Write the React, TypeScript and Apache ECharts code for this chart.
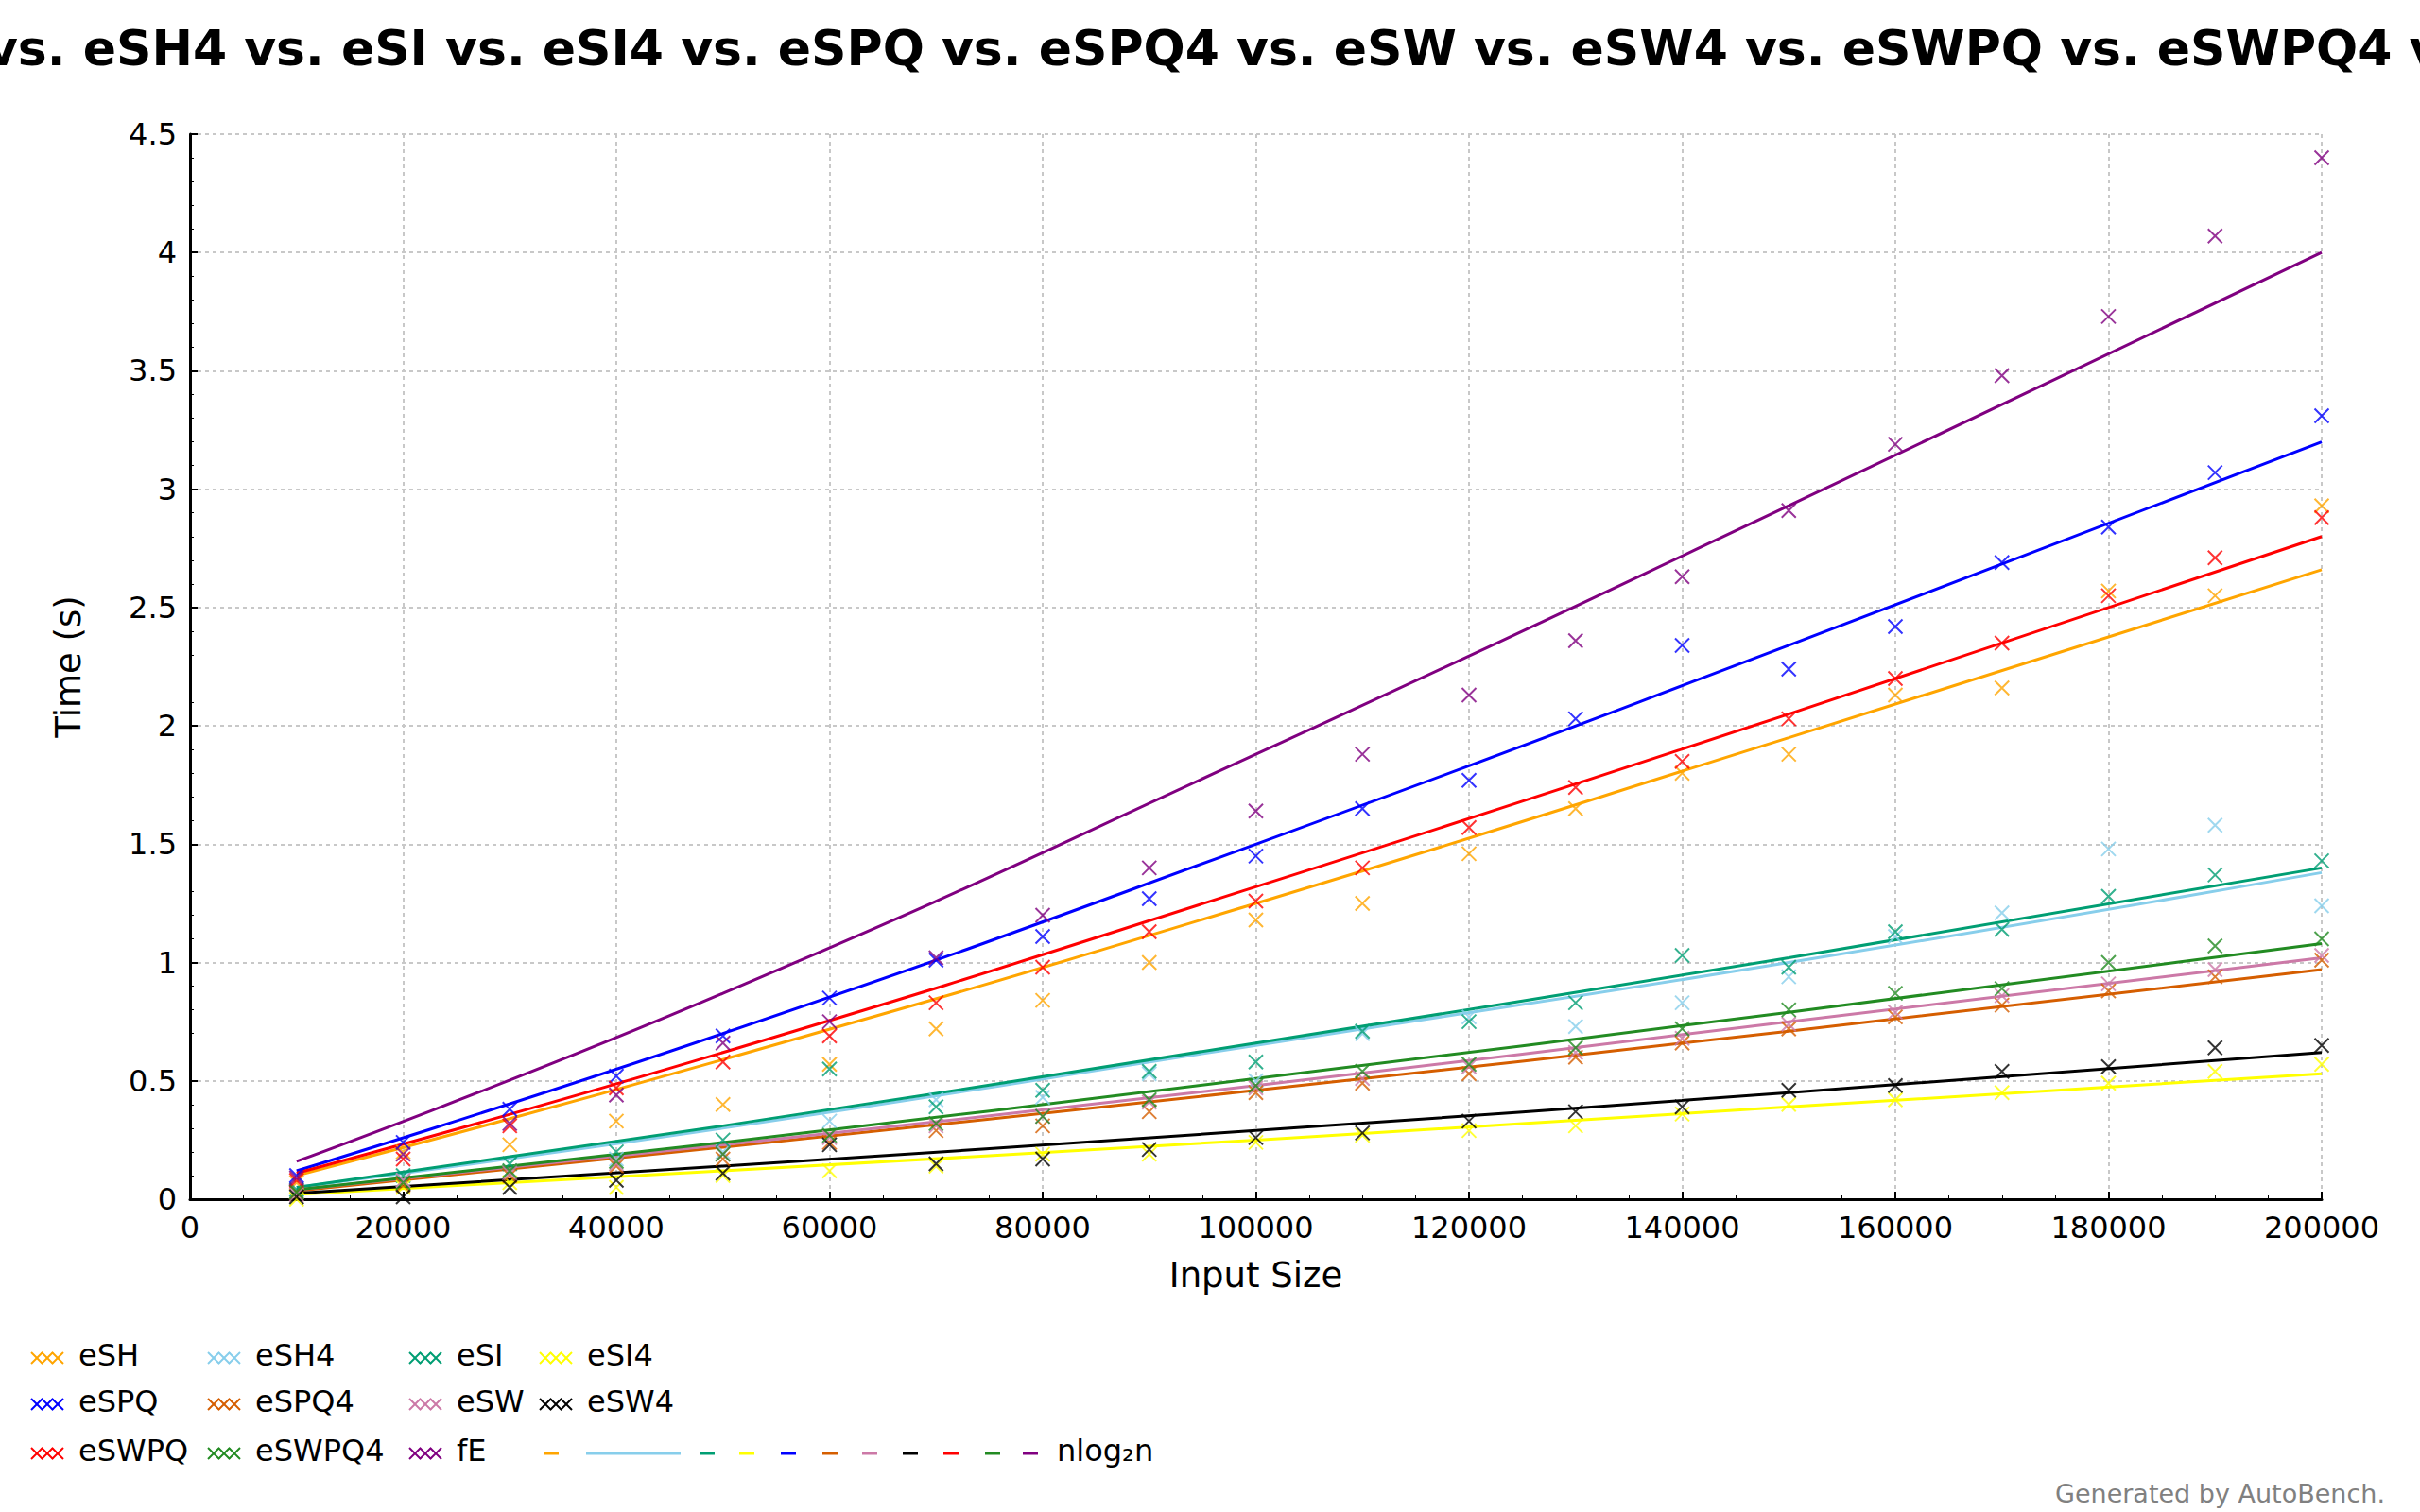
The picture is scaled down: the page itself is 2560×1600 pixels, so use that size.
import { useEffect, useRef } from 'react'
import * as echarts from 'echarts'

const sizes = [10000, 20000, 30000, 40000, 50000, 60000, 70000, 80000, 90000, 100000, 110000, 120000, 130000, 140000, 150000, 160000, 170000, 180000, 190000, 200000]
const fitSizes = [10000, 50000, 100000, 150000, 200000]

const names = ['eSH', 'eSH4', 'eSI', 'eSI4', 'eSPQ', 'eSPQ4', 'eSW', 'eSW4', 'eSWPQ', 'eSWPQ4', 'fE']
const colors = ['#FFA500', '#87CEEB', '#009E73', '#FFFF00', '#0000FF', '#D55E00', '#CC79A7', '#000000', '#FF0000', '#228B22', '#800080']

const eSH = [0.07, 0.2, 0.23, 0.33, 0.4, 0.57, 0.72, 0.84, 1.0, 1.18, 1.25, 1.46, 1.65, 1.8, 1.88, 2.13, 2.16, 2.57, 2.55, 2.93]
const eSH4 = [0.03, 0.08, 0.12, 0.17, 0.2, 0.33, 0.42, 0.43, 0.53, 0.5, 0.7, 0.77, 0.73, 0.83, 0.94, 1.11, 1.21, 1.48, 1.58, 1.24]
const eSI = [0.04, 0.1, 0.15, 0.2, 0.25, 0.55, 0.39, 0.46, 0.54, 0.58, 0.71, 0.75, 0.83, 1.03, 0.98, 1.13, 1.14, 1.28, 1.37, 1.43]
const eSI4 = [0.0, 0.05, 0.07, 0.05, 0.1, 0.12, 0.14, 0.19, 0.19, 0.24, 0.27, 0.29, 0.31, 0.36, 0.4, 0.42, 0.45, 0.49, 0.54, 0.57]
const eSPQ = [0.1, 0.24, 0.38, 0.52, 0.69, 0.85, 1.01, 1.11, 1.27, 1.45, 1.65, 1.77, 2.03, 2.34, 2.24, 2.42, 2.69, 2.84, 3.07, 3.31]
const eSPQ4 = [0.03, 0.06, 0.1, 0.14, 0.17, 0.24, 0.29, 0.31, 0.37, 0.45, 0.49, 0.53, 0.6, 0.66, 0.72, 0.77, 0.82, 0.88, 0.94, 1.01]
const eSW = [0.02, 0.08, 0.11, 0.15, 0.19, 0.26, 0.31, 0.35, 0.41, 0.47, 0.51, 0.56, 0.62, 0.68, 0.74, 0.79, 0.86, 0.91, 0.97, 1.03]
const eSW4 = [0.01, 0.01, 0.05, 0.08, 0.11, 0.23, 0.15, 0.17, 0.21, 0.26, 0.28, 0.33, 0.37, 0.39, 0.46, 0.48, 0.54, 0.56, 0.64, 0.65]
const eSWPQ = [0.08, 0.17, 0.31, 0.47, 0.58, 0.69, 0.83, 0.98, 1.13, 1.26, 1.4, 1.57, 1.74, 1.85, 2.03, 2.2, 2.35, 2.55, 2.71, 2.88]
const eSWPQ4 = [0.03, 0.07, 0.12, 0.16, 0.19, 0.27, 0.32, 0.35, 0.42, 0.48, 0.54, 0.57, 0.64, 0.72, 0.8, 0.87, 0.89, 1.0, 1.07, 1.1]
const fE = [0.09, 0.19, 0.32, 0.44, 0.66, 0.75, 1.02, 1.2, 1.4, 1.64, 1.88, 2.13, 2.36, 2.63, 2.91, 3.19, 3.48, 3.73, 4.07, 4.4]

// nlog2n fit curves
const fitESH = [0.1, 0.59, 1.25, 1.95, 2.66]
const fitESH4 = [0.05, 0.3, 0.65, 1.0, 1.38]
const fitESI = [0.05, 0.31, 0.66, 1.02, 1.4]
const fitESI4 = [0.02, 0.12, 0.25, 0.39, 0.53]
const fitESPQ = [0.12, 0.7, 1.5, 2.34, 3.2]
const fitESPQ4 = [0.035, 0.22, 0.46, 0.71, 0.97]
const fitESW = [0.04, 0.23, 0.48, 0.75, 1.02]
const fitESW4 = [0.025, 0.14, 0.29, 0.45, 0.62]
const fitESWPQ = [0.11, 0.62, 1.32, 2.05, 2.8]
const fitESWPQ4 = [0.04, 0.24, 0.51, 0.79, 1.08]
const fitFE = [0.16, 0.87, 1.88, 2.93, 4.0]

const points = [eSH, eSH4, eSI, eSI4, eSPQ, eSPQ4, eSW, eSW4, eSWPQ, eSWPQ4, fE]
const fits = [fitESH, fitESH4, fitESI, fitESI4, fitESPQ, fitESPQ4, fitESW, fitESW4, fitESWPQ, fitESWPQ4, fitFE]

const FONT = 'DejaVu Sans'
const CROSS = 'path://M0,0L10,10M10,0L0,10'

export default function App() {
  const ref = useRef<HTMLDivElement>(null)

  useEffect(() => {
    document.body.style.margin = '0'
    if (!ref.current) return
    const chart = echarts.init(ref.current, undefined, { renderer: 'svg' })

    const scatter = names.map((n, i) => ({
      name: n,
      type: 'scatter',
      symbol: CROSS,
      symbolSize: 15,
      itemStyle: { color: 'none', borderColor: colors[i], borderWidth: 2 },
      data: sizes.map((s, j) => [s, points[i][j]]),
      z: 3,
    }))
    const lines = names.map((n, i) => ({
      name: n + ' fit',
      type: 'line',
      smooth: true,
      showSymbol: false,
      lineStyle: { color: colors[i], width: 3 },
      data: fitSizes.map((s, j) => [s, fits[i][j]]),
      z: 2,
    }))

    // legend drawn by hand to match the 4-column layout
    const legendCols = [33, 220, 433, 571]
    const legendRows = [1437, 1486, 1538]
    const graphic: any[] = []
    names.forEach((n, k) => {
      const x = legendCols[k % 4]
      const y = legendRows[Math.floor(k / 4)]
      for (let m = 0; m < 3; m++) {
        const cx = x + 6 + m * 11
        graphic.push({
          type: 'polyline',
          shape: { points: [[cx - 6, y - 6], [cx + 6, y + 6]] },
          style: { stroke: colors[k], lineWidth: 2 },
        })
        graphic.push({
          type: 'polyline',
          shape: { points: [[cx + 6, y - 6], [cx - 6, y + 6]] },
          style: { stroke: colors[k], lineWidth: 2 },
        })
      }
      graphic.push({
        type: 'text', left: x + 50, top: y - 19,
        style: { text: n, fill: '#000', font: `32px ${FONT}` },
      })
    })
    const dashXs = [575, 620, 740, 782, 826, 870, 912, 955, 998, 1042, 1082]
    dashXs.forEach((dx, i) => {
      const w = i === 1 ? 100 : 16
      graphic.push({
        type: 'line',
        shape: { x1: dx, y1: 1538, x2: dx + w, y2: 1538 },
        style: { stroke: colors[i], lineWidth: 3 },
      })
    })
    graphic.push({
      type: 'text', left: 1118, top: 1519,
      style: { text: 'nlog₂n', fill: '#000', font: `32px ${FONT}` },
    })
    graphic.push({
      type: 'text', right: 37, top: 1567,
      style: { text: 'Generated by AutoBench.', fill: '#808080', font: `27px ${FONT}` },
    })

    const splitLine = { show: true, lineStyle: { color: '#c8c8c8', type: [4, 4], width: 2 } }
    chart.setOption({
      animation: false,
      backgroundColor: '#fff',
      title: {
        text: 'eSH vs. eSH4 vs. eSI vs. eSI4 vs. eSPQ vs. eSPQ4 vs. eSW vs. eSW4 vs. eSWPQ vs. eSWPQ4 vs. fE',
        left: 'center',
        top: 20,
        textStyle: { fontFamily: FONT, fontWeight: 'bold', fontSize: 52, color: '#000' },
      },
      grid: { left: 201, right: 104, top: 142, bottom: 331 },
      xAxis: {
        type: 'value',
        min: 0,
        max: 200000,
        interval: 20000,
        name: 'Input Size',
        nameLocation: 'middle',
        nameGap: 62,
        nameTextStyle: { fontFamily: FONT, fontSize: 37, color: '#000' },
        axisLine: { lineStyle: { color: '#000', width: 3 } },
        axisTick: { inside: true, length: 8, lineStyle: { color: '#000', width: 2 } },
        minorTick: { show: true, splitNumber: 4, length: 4, lineStyle: { color: '#000' } },
        axisLabel: { fontFamily: FONT, fontSize: 32, color: '#000', margin: 14, formatter: (v: number) => String(v) },
        splitLine,
      },
      yAxis: {
        type: 'value',
        min: 0,
        max: 4.5,
        interval: 0.5,
        name: 'Time (s)',
        nameLocation: 'middle',
        nameGap: 110,
        nameTextStyle: { fontFamily: FONT, fontSize: 37, color: '#000' },
        axisLine: { show: true, lineStyle: { color: '#000', width: 3 } },
        axisTick: { show: true, inside: true, length: 8, lineStyle: { color: '#000', width: 2 } },
        minorTick: { show: true, splitNumber: 5, length: 4, lineStyle: { color: '#000' } },
        axisLabel: { fontFamily: FONT, fontSize: 32, color: '#000', margin: 14 },
        splitLine,
      },
      graphic,
      series: [...lines, ...scatter],
    })

    return () => chart.dispose()
  }, [])

  return <div ref={ref} style={{ width: 2560, height: 1600 }} />
}
